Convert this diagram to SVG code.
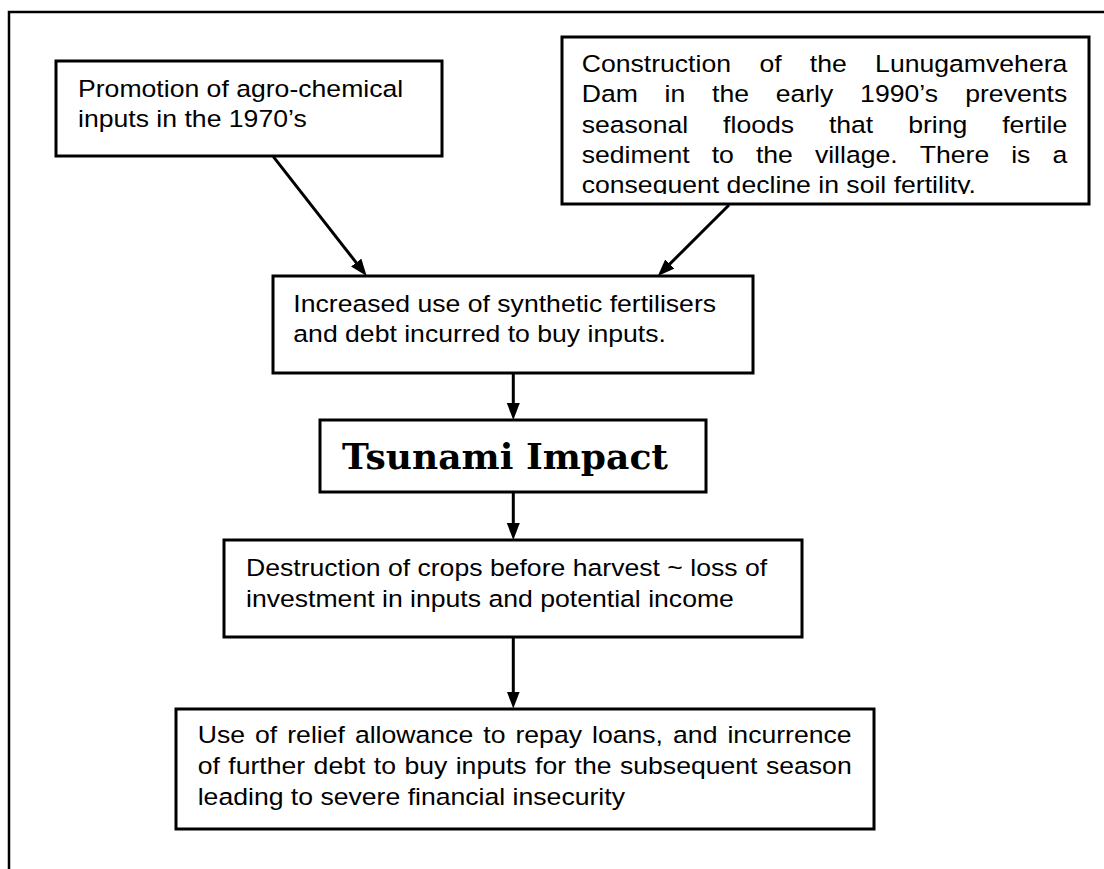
<svg xmlns="http://www.w3.org/2000/svg" width="1104" height="869" viewBox="0 0 1104 869">
<style>
.box{fill:#fff;stroke:#000;stroke-width:3}
.t{font-family:"Liberation Sans",Arial,sans-serif;font-size:24.3px;fill:#000}
.c{stroke:#000;stroke-width:3;fill:none}
.title{font-family:"DejaVu Serif","Liberation Serif",serif;font-weight:bold;font-size:36px;fill:#000}
</style>
<defs>
<marker id="ah" markerUnits="userSpaceOnUse" markerWidth="18" markerHeight="14" refX="7" refY="6.5" orient="auto">
<path d="M0,0 L17,6.5 L0,13 z" fill="#000"/>
</marker>
<clipPath id="clip2"><rect x="560" y="30" width="540" height="164"/></clipPath>
</defs>
<rect width="1104" height="869" fill="#fff"/>
<path d="M9,869 V12 H1104" fill="none" stroke="#000" stroke-width="2.5"/>

<g id="connectors">
<line class="c" x1="273.3" y1="156.7" x2="360.5" y2="268.1" marker-end="url(#ah)"/>
<line class="c" x1="729" y1="205" x2="664.9" y2="268.9" marker-end="url(#ah)"/>
<line class="c" x1="513.3" y1="373" x2="513.3" y2="410" marker-end="url(#ah)"/>
<line class="c" x1="513.3" y1="492" x2="513.3" y2="530" marker-end="url(#ah)"/>
<line class="c" x1="513.3" y1="637" x2="513.3" y2="698.5" marker-end="url(#ah)"/>
</g>

<g id="node-promotion">
<rect class="box" x="56" y="61" width="386" height="95"/>
<g transform="scale(1.095,1)">
<text class="t" x="71.23" y="96.7">Promotion of agro-chemical</text>
<text class="t" x="71.23" y="126.7">inputs in the 1970’s</text>
</g>
</g>

<g id="node-dam">
<rect class="box" x="562" y="37" width="527" height="167"/>
<g clip-path="url(#clip2)">
<g transform="scale(1.095,1)">
<text class="t" y="71.7"><tspan x="531.23">Construction</tspan><tspan x="693.52">of</tspan><tspan x="739.54">the</tspan><tspan x="799.18">Lunugamvehera</tspan></text>
<text class="t" y="102.2"><tspan x="531.23">Dam</tspan><tspan x="606.94">in</tspan><tspan x="650.23">the</tspan><tspan x="708.40">early</tspan><tspan x="785.48">1990’s</tspan><tspan x="881.46">prevents</tspan></text>
<text class="t" y="132.7"><tspan x="531.23">seasonal</tspan><tspan x="660.37">floods</tspan><tspan x="756.99">that</tspan><tspan x="829.41">bring</tspan><tspan x="915.25">fertile</tspan></text>
<text class="t" y="162.9"><tspan x="531.23">sediment</tspan><tspan x="649.95">to</tspan><tspan x="690.32">the</tspan><tspan x="744.20">village.</tspan><tspan x="839.91">There</tspan><tspan x="923.47">is</tspan><tspan x="961.19">a</tspan></text>
<text class="t" x="531.23" y="192.9">consequent decline in soil fertility.</text>
</g>
</g>
</g>

<g id="node-increased">
<rect class="box" x="273" y="276" width="480" height="97"/>
<g transform="scale(1.095,1)">
<text class="t" x="267.85" y="312.3">Increased use of synthetic fertilisers</text>
<text class="t" x="267.85" y="342">and debt incurred to buy inputs.</text>
</g>
</g>

<g id="node-tsunami">
<rect class="box" x="320" y="420" width="386" height="72"/>
<text class="title" x="342" y="469" textLength="326" lengthAdjust="spacingAndGlyphs">Tsunami Impact</text>
</g>

<g id="node-destruction">
<rect class="box" x="224" y="540" width="578" height="97"/>
<g transform="scale(1.095,1)">
<text class="t" x="224.66" y="576">Destruction of crops before harvest ~ loss of</text>
<text class="t" x="224.66" y="606.7">investment in inputs and potential income</text>
</g>
</g>

<g id="node-relief">
<rect class="box" x="176" y="709" width="698" height="120"/>
<g transform="scale(1.095,1)">
<text class="t" y="743.3"><tspan x="180.55">Use</tspan><tspan x="232.90">of</tspan><tspan x="262.32">relief</tspan><tspan x="324.13">allowance</tspan><tspan x="441.32">to</tspan><tspan x="470.74">repay</tspan><tspan x="540.67">loans,</tspan><tspan x="614.66">and</tspan><tspan x="664.35">incurrence</tspan></text>
<text class="t" y="774.5"><tspan x="180.55">of</tspan><tspan x="208.49">further</tspan><tspan x="286.40">debt</tspan><tspan x="341.37">to</tspan><tspan x="369.32">buy</tspan><tspan x="416.16">inputs</tspan><tspan x="488.68">for</tspan><tspan x="524.71">the</tspan><tspan x="566.17">subsequent</tspan><tspan x="699.49">season</tspan></text>
<text class="t" x="180.55" y="805">leading to severe financial insecurity</text>
</g>
</g>
</svg>
